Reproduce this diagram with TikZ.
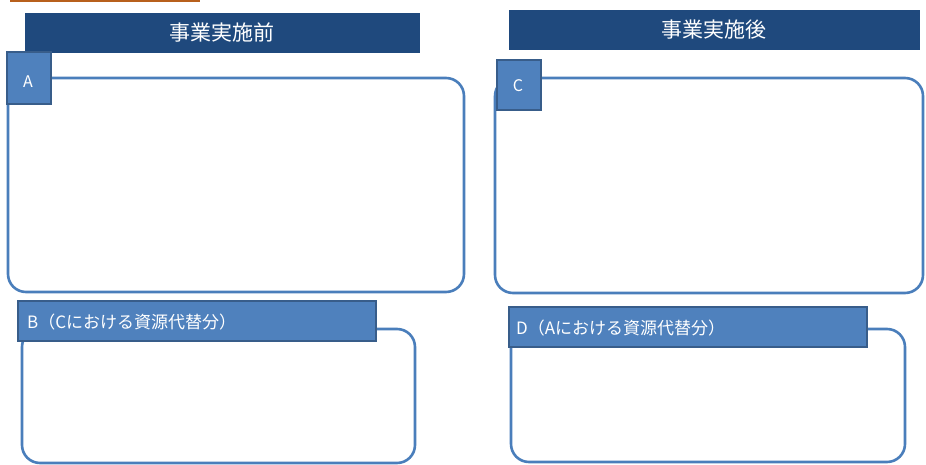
\documentclass[tikz,border=0pt]{standalone}
\usepackage{fontspec}
\setmainfont{Noto Sans CJK JP}
\definecolor{navy}{HTML}{1F497D}
\definecolor{midblue}{HTML}{4F81BD}
\definecolor{edgeblue}{HTML}{385D8A}
\definecolor{boxline}{HTML}{4A7EBB}
\definecolor{orangebar}{HTML}{B8601C}
\begin{document}
\begin{tikzpicture}[x=1pt,y=-1pt,
  titlebox/.style={fill=navy,draw=navy,inner sep=0pt,outer sep=0pt,anchor=north west,text=white,font=\fontsize{21}{25}\selectfont},
  tagbox/.style={fill=midblue,draw=edgeblue,line width=1.5pt,inner sep=0pt,outer sep=0pt,anchor=north west,text=white},
  panel/.style={draw=boxline,line width=2.6pt,rounded corners=18pt,inner sep=0pt,outer sep=0pt,anchor=north west,fill=white},
  tagtext/.style={text=white,font=\fontsize{17}{20}\selectfont,anchor=west,inner sep=0pt},
  lettertext/.style={text=white,font=\fontsize{16}{18}\selectfont,inner sep=0pt}]
\useasboundingbox (0,0) rectangle (926,465);
\fill[white] (0,0) rectangle (926,465);
% orange bar at top
\node[fill=orangebar,inner sep=0pt,outer sep=0pt,anchor=north west,minimum width=190pt,minimum height=2.5pt] (bar) at (10,0) {};
% titles
\node[titlebox,minimum width=394pt,minimum height=39pt] (t1) at (25,13) {事業実施前};
\node[titlebox,minimum width=410pt,minimum height=39pt] (t2) at (509,10) {事業実施後};
% big panels
\node[panel,minimum width=456pt,minimum height=214pt] (pA) at (8,78) {};
\node[panel,minimum width=428pt,minimum height=215pt] (pC) at (495,78) {};
\node[panel,minimum width=393pt,minimum height=134pt] (pB) at (22,329) {};
\node[panel,minimum width=394pt,minimum height=133pt] (pD) at (511,329) {};
% tags
\node[tagbox,minimum width=44pt,minimum height=52pt] (tA) at (7,52) {};
\node[lettertext] (lA) at (28,82) {A};
\node[tagbox,minimum width=44pt,minimum height=50pt] (tC) at (497,60) {};
\node[lettertext] (lC) at (518,86) {C};
\node[tagbox,minimum width=358pt,minimum height=40pt] (tB) at (18,301) {};
\node[tagtext] (lB) at (27,322) {B（Cにおける資源代替分）};
\node[tagbox,minimum width=358pt,minimum height=40pt] (tD) at (509,307) {};
\node[tagtext] (lD) at (516,328) {D（Aにおける資源代替分）};
\end{tikzpicture}
\end{document}
